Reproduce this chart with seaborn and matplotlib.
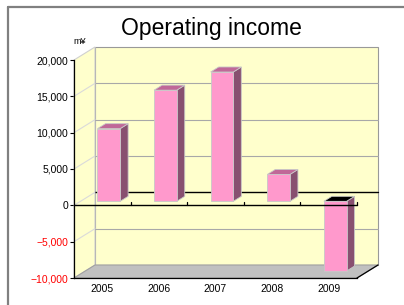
import matplotlib
matplotlib.use("Agg")
import matplotlib.pyplot as plt
from matplotlib.lines import Line2D
from matplotlib.patches import Polygon
import seaborn as sns
import pandas as pd

# Data
years = ["2005", "2006", "2007", "2008", "2009"]
income = [10000, 15300, 17800, 3700, -9600]
yticks = [-10000, -5000, 0, 5000, 10000, 15000, 20000]
unit = "m¥"
title = "Operating income"

sns.set_style("white")
plt.rcParams["font.family"] = ["Liberation Sans", "DejaVu Sans"]
plt.rcParams["text.color"] = "black"
plt.rcParams["xtick.color"] = "black"
plt.rcParams["ytick.color"] = "black"

W, H = 404, 305
fig = plt.figure(figsize=(W / 100, H / 100), dpi=100)
# front plane of the 3D box
ax = fig.add_axes([74 / W, 27 / H, 283 / W, 218 / H])
ax.set_facecolor("none")

df = pd.DataFrame({"year": years, "income": income})
sns.barplot(data=df, x="year", y="income", color="#FF99CC", saturation=1,
            width=0.4, edgecolor="#C8C8C8", linewidth=0.6, ax=ax, zorder=5)
bars = list(ax.patches)

ax.set_xlim(-0.5, 4.5)
ax.set_ylim(-10000, 20000)

# pixel -> data scale
sx = 5 / 283
sy = 30000 / 218


def sh(x, y, dx, dy):
    return (x + dx * sx, y + dy * sy)


DX, DY = 21, 13  # depth of the box in px

# back wall, side wall, floor
back = Polygon([sh(-0.5, -10000, DX, DY), sh(4.5, -10000, DX, DY),
                sh(4.5, 20000, DX, DY), sh(-0.5, 20000, DX, DY)],
               closed=True, fc="#FFFFCC", ec="#999999", lw=0.8,
               clip_on=False, zorder=0)
side = Polygon([(-0.5, -10000), (-0.5, 20000), sh(-0.5, 20000, DX, DY),
                sh(-0.5, -10000, DX, DY)],
               closed=True, fc="#FFFFCC", ec="#D0D0D0", lw=0.8,
               clip_on=False, zorder=0)
floor = Polygon([(-0.5, -10000), (4.5, -10000), sh(4.5, -10000, DX, DY),
                 sh(-0.5, -10000, DX, DY)],
                closed=True, fc="#C0C0C0", ec="#A0A0A0", lw=0.8,
                clip_on=False, zorder=1)
for p in (back, side, floor):
    ax.add_patch(p)

# gridlines on back wall + diagonals on side wall
for v in [-5000, 0, 5000, 10000, 15000]:
    b0 = sh(-0.5, v, DX, DY)
    b1 = sh(4.5, v, DX, DY)
    ax.plot([b0[0], b1[0]], [b0[1], b1[1]],
            color="black" if v == 0 else "#A8A8A8",
            lw=1.0 if v == 0 else 0.8, clip_on=False, zorder=2)
    ax.plot([-0.5, b0[0]], [v, b0[1]], color="#DADADA", lw=0.8,
            clip_on=False, zorder=2)

# right edge of floor
e = sh(4.5, -10000, DX, DY)
ax.plot([4.5, e[0]], [-10000, e[1]], color="black", lw=0.9,
        clip_on=False, zorder=3)

# 3D bars
BX, BY = 6.5, 4   # bar front offset
DBX, DBY = 8, 5   # bar depth
for p in bars:
    x0, w = p.get_x(), p.get_width()
    y0, h = p.get_y(), p.get_height()
    p.set_x(x0 + BX * sx)
    p.set_y(y0 + BY * sy)
    xl, xr = p.get_x(), p.get_x() + w
    yb, yt = min(p.get_y(), p.get_y() + h), max(p.get_y(), p.get_y() + h)
    sidep = Polygon([(xr, yb), (xr, yt), sh(xr, yt, DBX, DBY),
                     sh(xr, yb, DBX, DBY)], closed=True, fc="#885070",
                    ec="#C8C8C8", lw=0.6, clip_on=False, zorder=4)
    top = Polygon([(xl, yt), (xr, yt), sh(xr, yt, DBX, DBY),
                   sh(xl, yt, DBX, DBY)], closed=True,
                  fc="black" if h < 0 else "#C06898",
                  ec="#C8C8C8", lw=0.6, clip_on=False, zorder=4)
    ax.add_patch(sidep)
    ax.add_patch(top)

# front zero line with category ticks
ax.plot([-0.5, 4.5], [0, 0], color="black", lw=1.0, clip_on=False, zorder=6)
for b in [0.5, 1.5, 2.5, 3.5, 4.5]:
    ax.plot([b, b], [0, 3 * sy], color="black", lw=0.9, clip_on=False,
            zorder=6)

# axes styling
for s in ["top", "right"]:
    ax.spines[s].set_visible(False)
for s in ["left", "bottom"]:
    ax.spines[s].set_color("black")
    ax.spines[s].set_linewidth(0.9)
    ax.spines[s].set_zorder(7)

ax.set_yticks(yticks)
ax.set_yticklabels([f"{v:,}".replace("-", "\u2212") for v in yticks])
for lab, v in zip(ax.get_yticklabels(), yticks):
    lab.set_color("red" if v < 0 else "black")
ax.tick_params(axis="y", direction="out", length=3, width=0.8,
               labelsize=7.5, pad=1, left=True)
ax.set_xticks(range(len(years)))
ax.set_xticks([0.5, 1.5, 2.5, 3.5, 4.5], minor=True)
ax.tick_params(axis="x", which="major", length=0, labelsize=7.5, pad=4)
ax.tick_params(axis="x", which="minor", direction="in", length=3,
               width=0.8, bottom=True)
ax.set_xlabel("")
ax.set_ylabel("")

# texts
fig.text(211 / W, 1 - 28 / H, title, ha="center", va="center",
         fontsize=16.5, color="black")
fig.text(80 / W, 1 - 42 / H, unit, ha="center", va="center", fontsize=6.5,
         color="black")

# outer frame (top and left)
fig.add_artist(Line2D([8 / W, 1], [1 - 7 / H, 1 - 7 / H],
                      transform=fig.transFigure, color="#808080", lw=1.6))
fig.add_artist(Line2D([8 / W, 8 / W], [0, 1 - 7 / H],
                      transform=fig.transFigure, color="#808080", lw=1.6))

fig.savefig("out.png", dpi=100)
